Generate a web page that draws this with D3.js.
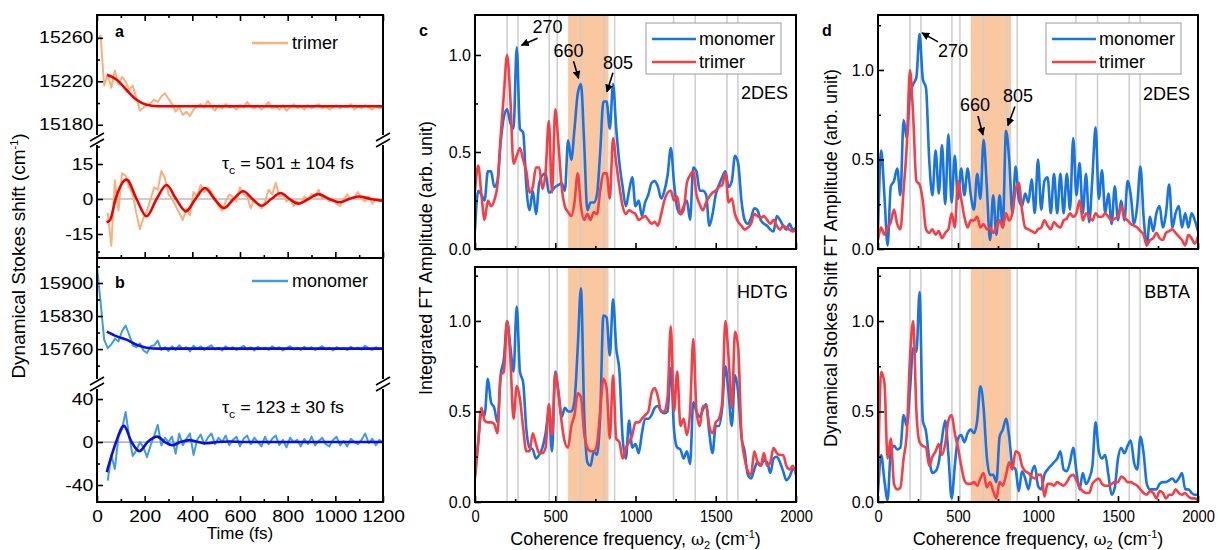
<!DOCTYPE html>
<html>
<head>
<meta charset="utf-8">
<script src="https://cdn.jsdelivr.net/npm/d3@7"></script>
<style>
  body { margin: 0; background: #fff; }
  svg text { font-family: "Liberation Sans", Arial, sans-serif; fill: #000; }
</style>
</head>
<body>
<svg id="fig" width="1218" height="550"></svg>
<script>
// ---------- data ----------
// time grids (fs)
const timeRaw = d3.range(0, 1201, 15);
const timeRes = d3.range(45, 1201, 15);
// frequency grid (cm-1)
const freq = d3.range(0, 2001, 20);

// panel a: trimer dynamical Stokes shift (cm-1)
const trimerShift = [15258,15262,15216,15226,15214,15230,15217,15224,15220,15212,
  15216,15205,15193,15196,15198,15200,15203,15201,15206,15209,
  15204,15199,15192,15196,15189,15192,15188,15194,15197,15199,
  15196,15202,15197,15193,15198,15195,15199,15196,15197,15194,
  15198,15196,15201,15197,15195,15198,15194,15197,15201,15195,
  15197,15194,15198,15193,15196,15199,15195,15197,15194,15198,
  15195,15197,15199,15195,15197,15194,15196,15198,15195,15197,
  15196,15199,15194,15197,15195,15198,15196,15194,15197,15195,
  15196];
const trimerFitT = [42, 83, 124, 166, 208, 264, 1200];
const trimerFit = [15226, 15221.5, 15212, 15203, 15198.5, 15197, 15197];
const trimerResidual = [-6,-20,8,-5,11,10,5,2,-6,-13,
  -8,-5,0,5,4,12,9,2,0,-3,
  -6,-9,-4,-7,3,1,6,3,5,3,
  0,-3,-5,-1,2,1,-1,5,2,1,
  -4,0,-2,-4,-1,4,2,7,1,2,
  -1,0,-3,-1,-2,1,0,2,1,4,
  0,1,-1,0,-2,-3,0,2,0,1,
  3,0,-1,1,-2,0,-1,-1];
const trimerOscT = [40,55,78,124,166,208,250,292,332,373,413,453,493,533,573,614,652,691,731,771,808,845,887,929,975,1020,1058,1097,1150,1200];
const trimerOsc = [-10,-9,0,8.3,0,-7.4,0,6,0,-5.3,0,4.7,0,-3.9,0,3.3,0,-2.9,0,2.6,0,-2.0,0,2.1,0,-1.4,0,1.1,0,-0.8];

// panel b: monomer dynamical Stokes shift (cm-1)
const monomerShift = [15935,15860,15780,15762,15770,15782,15776,15798,15810,15790,
  15768,15764,15772,15757,15752,15766,15768,15778,15758,15764,
  15756,15766,15758,15768,15760,15764,15755,15767,15760,15766,
  15758,15764,15768,15759,15763,15757,15766,15760,15764,15758,
  15762,15767,15759,15764,15757,15765,15760,15763,15758,15766,
  15761,15764,15757,15762,15766,15759,15763,15758,15765,15760,
  15764,15758,15762,15766,15759,15763,15757,15764,15760,15762,
  15758,15765,15760,15763,15759,15767,15761,15758,15764,15760,
  15762];
const monomerFitT = [41, 83, 124, 166, 208, 260, 1200];
const monomerFit = [15797, 15787, 15780, 15769, 15763, 15761, 15761];
const monomerResidual = [-36,-12,-25,5,12,28,5,-13,-8,0,
  -5,-14,-3,6,16,-3,4,0,5,-11,
  8,-3,3,8,-12,2,7,-2,4,8,
  -2,4,0,6,-3,2,5,-4,3,6,
  -2,4,0,-4,5,-2,3,6,-3,2,
  -5,4,0,2,-4,3,-2,5,-3,1,
  4,-2,-4,2,5,-3,1,-4,3,0,
  -2,2,8,-1,3,-3,2,-1];
const monomerOscT = [41,58,80,113,145,178,212,253,285,315,350,387,425,455,505,555,620,1200];
const monomerOsc = [-28,-15,0,15,0,-8.5,0,5,0,-3,0,1.8,0,-1.2,0,0.5,0,0];

// panel c: integrated FT amplitude
const c2desMonomer = [0.10,0.30,0.28,0.25,0.40,0.40,0.32,0.35,0.55,0.68,
  0.72,0.65,0.62,1.04,0.62,0.60,0.32,0.20,0.30,0.18,
  0.34,0.38,0.39,0.29,0.30,0.32,0.33,0.34,0.30,0.56,
  0.46,0.62,0.80,0.85,0.55,0.20,0.24,0.24,0.28,0.50,
  0.76,0.76,0.62,0.85,0.62,0.44,0.32,0.22,0.30,0.37,
  0.22,0.25,0.17,0.24,0.28,0.34,0.35,0.32,0.26,0.30,
  0.38,0.52,0.34,0.21,0.18,0.22,0.25,0.15,0.42,0.40,
  0.30,0.30,0.28,0.12,0.18,0.28,0.33,0.37,0.40,0.32,
  0.35,0.48,0.44,0.25,0.15,0.13,0.16,0.21,0.20,0.15,
  0.13,0.12,0.10,0.09,0.17,0.15,0.12,0.10,0.13,0.10,
  0.11];
const c2desTrimer = [0.30,0.43,0.28,0.15,0.25,0.22,0.25,0.33,0.58,0.80,
  1.00,0.78,0.44,0.48,0.52,0.46,0.40,0.29,0.32,0.42,
  0.42,0.31,0.40,0.66,0.29,0.72,0.54,0.32,0.22,0.19,
  0.17,0.24,0.39,0.22,0.15,0.18,0.15,0.19,0.18,0.30,
  0.39,0.39,0.26,0.57,0.44,0.32,0.22,0.18,0.20,0.19,
  0.18,0.15,0.16,0.17,0.15,0.13,0.14,0.12,0.18,0.25,
  0.29,0.30,0.25,0.27,0.18,0.20,0.34,0.38,0.40,0.28,
  0.23,0.20,0.24,0.27,0.29,0.30,0.32,0.33,0.39,0.24,
  0.26,0.18,0.14,0.12,0.10,0.11,0.13,0.18,0.17,0.16,
  0.17,0.15,0.13,0.15,0.12,0.10,0.12,0.11,0.10,0.09,
  0.10];
const hdtgMonomer = [0.15,0.33,0.50,0.48,0.68,0.55,0.52,0.44,0.70,0.79,
  1.00,0.86,0.72,1.08,0.72,0.66,0.40,0.30,0.29,0.24,
  0.26,0.30,0.38,0.50,0.28,0.72,0.60,0.47,0.52,0.50,
  0.50,0.56,0.85,1.18,0.50,0.22,0.20,0.28,0.26,0.48,
  1.03,1.02,0.81,1.12,0.85,0.72,0.35,0.24,0.45,0.30,
  0.32,0.27,0.38,0.46,0.46,0.48,0.52,0.53,0.50,0.49,
  0.50,0.74,0.40,0.30,0.29,0.24,0.28,0.21,0.55,0.50,
  0.47,0.51,0.54,0.38,0.27,0.42,0.42,0.52,0.75,0.60,
  0.42,0.70,0.60,0.36,0.28,0.15,0.13,0.18,0.22,0.20,
  0.23,0.22,0.16,0.24,0.25,0.22,0.17,0.12,0.14,0.18,
  0.18];
const hdtgTrimer = [0.13,0.33,0.52,0.45,0.44,0.44,0.43,0.38,0.70,0.72,
  1.00,0.80,0.46,0.64,0.57,0.41,0.28,0.28,0.38,0.32,
  0.27,0.27,0.30,0.54,0.37,0.71,0.61,0.44,0.33,0.30,
  0.42,0.48,0.60,0.58,0.38,0.30,0.28,0.28,0.32,0.50,
  0.68,0.63,0.35,0.70,0.35,0.33,0.24,0.30,0.33,0.37,
  0.44,0.44,0.46,0.48,0.50,0.60,0.63,0.58,0.50,0.50,
  0.58,0.97,0.50,0.72,0.42,0.46,0.37,0.50,0.90,0.50,
  0.42,0.53,0.53,0.42,0.38,0.44,0.46,0.55,1.00,0.80,
  0.52,0.94,0.85,0.38,0.24,0.17,0.15,0.28,0.22,0.20,
  0.27,0.20,0.22,0.30,0.27,0.26,0.26,0.20,0.18,0.20,
  0.15];

// panel d: dynamical Stokes shift FT amplitude
const d2desMonomer = [0.10,0.55,0.30,0.02,0.35,0.38,0.45,0.30,0.72,0.62,
  0.87,0.92,0.96,1.20,0.95,0.90,0.50,0.30,0.55,0.31,
  0.58,0.25,0.64,0.26,0.52,0.28,0.45,0.30,0.45,0.30,
  0.22,0.42,0.28,0.61,0.35,0.05,0.30,0.08,0.30,0.12,
  0.66,0.50,0.20,0.46,0.28,0.24,0.31,0.26,0.39,0.20,
  0.50,0.22,0.38,0.40,0.20,0.42,0.20,0.42,0.20,0.42,
  0.22,0.62,0.30,0.48,0.20,0.42,0.15,0.40,0.68,0.28,
  0.44,0.20,0.31,0.14,0.35,0.16,0.27,0.16,0.38,0.30,
  0.14,0.24,0.46,0.18,0.02,0.18,0.10,0.20,0.24,0.12,
  0.20,0.36,0.12,0.20,0.24,0.12,0.20,0.12,0.20,0.16,
  0.10];
const d2desTrimer = [0.05,0.12,0.08,0.12,0.15,0.22,0.14,0.11,0.33,0.58,
  1.00,0.74,0.38,0.36,0.27,0.11,0.09,0.11,0.08,0.10,
  0.06,0.09,0.11,0.20,0.12,0.38,0.28,0.18,0.12,0.16,
  0.16,0.18,0.12,0.14,0.11,0.12,0.09,0.12,0.16,0.12,
  0.20,0.16,0.20,0.33,0.37,0.22,0.12,0.11,0.10,0.09,
  0.11,0.12,0.16,0.13,0.11,0.15,0.13,0.12,0.16,0.17,
  0.20,0.18,0.20,0.27,0.16,0.20,0.18,0.16,0.20,0.18,
  0.18,0.20,0.18,0.16,0.17,0.18,0.24,0.18,0.16,0.14,
  0.13,0.12,0.10,0.08,0.02,0.05,0.06,0.09,0.06,0.05,
  0.09,0.10,0.11,0.09,0.07,0.05,0.02,0.08,0.06,0.03,
  0.07];
const bbtaMonomer = [0.05,0.26,0.12,0.01,0.28,0.31,0.29,0.30,0.48,0.42,
  0.62,0.85,0.83,1.16,0.45,0.39,0.24,0.16,0.17,0.22,
  0.35,0.45,0.26,0.02,0.20,0.35,0.37,0.33,0.38,0.40,
  0.38,0.45,0.64,0.52,0.25,0.15,0.15,0.11,0.36,0.40,
  0.46,0.36,0.20,0.18,0.06,0.17,0.13,0.07,0.16,0.20,
  0.09,0.07,0.15,0.18,0.20,0.22,0.24,0.28,0.18,0.17,
  0.22,0.30,0.17,0.07,0.16,0.10,0.13,0.20,0.44,0.28,
  0.24,0.26,0.15,0.04,0.08,0.24,0.30,0.27,0.31,0.34,
  0.22,0.18,0.36,0.27,0.10,0.07,0.07,0.07,0.10,0.11,
  0.11,0.12,0.13,0.11,0.13,0.16,0.07,0.07,0.05,0.04,
  0.04];
const bbtaTrimer = [0.10,0.72,0.66,0.24,0.35,0.10,0.07,0.08,0.24,0.38,
  0.80,1.00,0.50,0.33,0.31,0.30,0.20,0.25,0.28,0.32,
  0.26,0.32,0.45,0.48,0.38,0.30,0.20,0.12,0.10,0.10,
  0.11,0.09,0.13,0.16,0.08,0.11,0.06,0.02,0.11,0.09,
  0.15,0.22,0.18,0.28,0.27,0.20,0.17,0.16,0.14,0.13,
  0.15,0.15,0.03,0.10,0.10,0.09,0.11,0.10,0.09,0.11,
  0.14,0.15,0.12,0.08,0.06,0.05,0.05,0.10,0.12,0.13,
  0.10,0.09,0.09,0.10,0.11,0.11,0.14,0.13,0.11,0.11,
  0.10,0.09,0.07,0.05,0.04,0.06,0.05,0.02,0.06,0.05,
  0.02,0.04,0.04,0.07,0.05,0.04,0.05,0.03,0.02,0.02,
  0.01];

// vibrational mode markers and shaded region (cm-1)
const modeLines = [200, 268, 462, 512, 658, 805, 870, 1237, 1372, 1570, 1638];
const bandRange = [580, 832];
const timeMajor = [0, 200, 400, 600, 800, 1000, 1200];
const timeMinor = [100, 300, 500, 700, 900, 1100];
const freqMajor = [0, 500, 1000, 1500, 2000];
const freqMinor = [250, 750, 1250, 1750];

// ---------- styles ----------
const col = {
  trimerRaw: '#f8b17c', trimerFit: '#f20000',
  monoRaw: '#3f9ddd', monoFit: '#0d0de6',
  ftMono: '#1873e3', ftTri: '#f83e44',
  band: '#fac8a0', mode: '#cdcdcd'
};

const svg = d3.select('#fig');
let clipId = 0;
const plainInt = d => String(d);   // keep ASCII hyphen for negatives

function clipRect(x0, y0, x1, y1) {
  const id = 'clip' + (clipId++);
  svg.append('clipPath').attr('id', id)
    .append('rect').attr('x', x0).attr('y', y0).attr('width', x1 - x0).attr('height', y1 - y0);
  return `url(#${id})`;
}

// inward tick axis helper
function tickAxis(axis, scale, values, size, fmt, pos, pad, sx) {
  const gen = axis(scale).tickValues(values).tickSize(-size).tickPadding(pad || 4)
    .tickFormat(fmt || '');
  const g = svg.append('g').attr('transform', pos).call(gen);
  g.select('.domain').remove();
  g.selectAll('line').attr('stroke', '#000').attr('stroke-width', 1.6);
  g.selectAll('text').attr('font-size', 16).attr('font-family', '"Liberation Sans", Arial, sans-serif')
    .attr('fill', '#000');
  if (sx) g.selectAll('text').attr('transform', `scale(${sx},1)`);
  return g;
}

function frame(x0, y0, x1, y1) {
  svg.append('rect').attr('x', x0).attr('y', y0).attr('width', x1 - x0).attr('height', y1 - y0)
    .attr('fill', 'none').attr('stroke', '#000').attr('stroke-width', 2);
}

function breakMark(x, y) {
  svg.append('rect').attr('x', x - 3).attr('y', y - 5).attr('width', 6).attr('height', 10).attr('fill', '#fff');
  [-3, 3].forEach(o => {
    svg.append('line').attr('x1', x - 7).attr('y1', y + o + 4).attr('x2', x + 7).attr('y2', y + o - 4)
      .attr('stroke', '#000').attr('stroke-width', 1.6);
  });
}

function sText(x, y, str, size, opts = {}) {
  const t = svg.append('text')
    .attr('transform', `translate(${x},${y})` + (opts.rot ? ` rotate(${opts.rot})` : '') + (opts.sx ? ` scale(${opts.sx},1)` : ''))
    .attr('font-size', size).attr('text-anchor', opts.anchor || 'start')
    .attr('font-weight', opts.bold ? 'bold' : 'normal');
  if (str) t.text(str);
  return t;
}

// ---------- panels a / b ----------
const xT = d3.scaleLinear().domain([0, 1200]).range([97, 383]);

function timePanel(cfg) {
  const yUp = d3.scaleLinear().domain(cfg.upDomain).range([cfg.brk, cfg.top]);
  const yLo = d3.scaleLinear().domain(cfg.loDomain).range([cfg.bottom, cfg.brk]);

  // zero line
  svg.append('line').attr('x1', 97).attr('x2', 383).attr('y1', yLo(0)).attr('y2', yLo(0))
    .attr('stroke', '#9a9a9a').attr('stroke-width', 1.2);

  const upClip = clipRect(97, cfg.top, 383, cfg.brk);
  const loClip = clipRect(97, cfg.brk, 383, cfg.bottom);

  const lineUpRaw = d3.line().x((d, i) => xT(timeRaw[i])).y(d => yUp(d));
  const lineLoRaw = d3.line().x((d, i) => xT(timeRes[i])).y(d => yLo(d));
  const lineUpFit = d3.line().x((d, i) => xT(cfg.fitT[i])).y(d => yUp(d)).curve(d3.curveMonotoneX);
  const lineLoFit = d3.line().x((d, i) => xT(cfg.oscT[i])).y(d => yLo(d)).curve(d3.curveMonotoneX);

  const g1 = svg.append('g').attr('clip-path', upClip);
  g1.append('path').attr('d', lineUpRaw(cfg.raw)).attr('fill', 'none').attr('stroke', cfg.rawColor)
    .attr('stroke-width', 2).attr('stroke-linejoin', 'round');
  g1.append('path').attr('d', lineUpFit(cfg.fit)).attr('fill', 'none').attr('stroke', cfg.fitColor)
    .attr('stroke-width', 2.6);
  const g2 = svg.append('g').attr('clip-path', loClip);
  g2.append('path').attr('d', lineLoRaw(cfg.res)).attr('fill', 'none').attr('stroke', cfg.rawColor)
    .attr('stroke-width', 2).attr('stroke-linejoin', 'round');
  g2.append('path').attr('d', lineLoFit(cfg.osc)).attr('fill', 'none').attr('stroke', cfg.fitColor)
    .attr('stroke-width', 2.6);

  // y ticks
  tickAxis(d3.axisLeft, yUp, cfg.upMajor, 6, plainInt, 'translate(97,0)', 3, 1.22);
  tickAxis(d3.axisLeft, yUp, cfg.upMinor, 3, null, 'translate(97,0)');
  tickAxis(d3.axisLeft, yLo, cfg.loMajor, 6, plainInt, 'translate(97,0)', 3, 1.22);
  tickAxis(d3.axisLeft, yLo, cfg.loMinor, 3, null, 'translate(97,0)');

  // x ticks
  if (cfg.topTicks) {
    tickAxis(d3.axisTop, xT, timeMajor, 6, null, `translate(0,${cfg.top})`);
    tickAxis(d3.axisTop, xT, timeMinor, 3, null, `translate(0,${cfg.top})`);
  }
  tickAxis(d3.axisBottom, xT, timeMajor, 6, cfg.xLabels ? plainInt : null, `translate(0,${cfg.bottom})`, 9, 1.2);
  tickAxis(d3.axisBottom, xT, timeMinor, 3, null, `translate(0,${cfg.bottom})`);

  frame(97, cfg.top, 383, cfg.bottom);
  breakMark(97, cfg.brk);
  breakMark(383, cfg.brk);

  // letter
  sText(115, cfg.top + cfg.letterDy, cfg.letter, 16, { bold: true });
  // legend
  const ly = cfg.top + cfg.legendDy;
  svg.append('line').attr('x1', 252).attr('x2', 288).attr('y1', ly).attr('y2', ly)
    .attr('stroke', cfg.rawColor).attr('stroke-width', 2.4);
  sText(292, ly + 6, cfg.legend, 18);
  // tau
  const t = sText(222, cfg.tauY, null, 16, { sx: 1.12 });
  t.append('tspan').text('τ');
  t.append('tspan').attr('font-size', 11).attr('dy', 5).text('c');
  t.append('tspan').attr('dy', -5).text(cfg.tau);
}

timePanel({
  top: 15, brk: 140, bottom: 258,
  upDomain: [15166, 15281], loDomain: [-25.3, 25.3],
  upMajor: [15180, 15220, 15260], upMinor: [15200, 15240],
  loMajor: [-15, 0, 15], loMinor: [-22.5, -7.5, 7.5, 22.5],
  raw: trimerShift, fitT: trimerFitT, fit: trimerFit,
  res: trimerResidual, oscT: trimerOscT, osc: trimerOsc,
  rawColor: col.trimerRaw, fitColor: col.trimerFit,
  letter: 'a', letterDy: 22, legend: 'trimer', legendDy: 28,
  tau: ' = 501 ± 104 fs', tauY: 169, topTicks: true, xLabels: false
});

timePanel({
  top: 258, brk: 384, bottom: 502,
  upDomain: [15686, 15953], loDomain: [-55.8, 54],
  upMajor: [15760, 15830, 15900], upMinor: [15725, 15795, 15865, 15935],
  loMajor: [-40, 0, 40], loMinor: [-20, 20],
  raw: monomerShift, fitT: monomerFitT, fit: monomerFit,
  res: monomerResidual, oscT: monomerOscT, osc: monomerOsc,
  rawColor: col.monoRaw, fitColor: col.monoFit,
  letter: 'b', letterDy: 30, legend: 'monomer', legendDy: 23,
  tau: ' = 123 ± 30 fs', tauY: 413, topTicks: false, xLabels: true
});

// a/b axis titles
sText(240, 539, 'Time (fs)', 17, { anchor: 'middle' });
{
  const t = sText(25, 256, null, 19, { rot: -90, anchor: 'middle' });
  t.append('tspan').text('Dynamical Stokes shift (cm');
  t.append('tspan').attr('font-size', 11).attr('dy', -7).text('-1');
  t.append('tspan').attr('dy', 7).text(')');
}

// ---------- panels c / d ----------
function specPanel(cfg) {
  const x = d3.scaleLinear().domain([0, 2000]).range(cfg.xr);
  const y = d3.scaleLinear().domain([0, cfg.yMax]).range([cfg.bottom, cfg.top]);
  const [x0, x1] = cfg.xr;

  svg.append('rect').attr('x', x(bandRange[0])).attr('y', cfg.top)
    .attr('width', x(bandRange[1]) - x(bandRange[0])).attr('height', cfg.bottom - cfg.top)
    .attr('fill', col.band);
  svg.selectAll(null).data(modeLines).enter().append('line')
    .attr('x1', d => x(d)).attr('x2', d => x(d)).attr('y1', cfg.top).attr('y2', cfg.bottom)
    .attr('stroke', col.mode).attr('stroke-width', 1.5);

  const clip = clipRect(x0, cfg.top, x1, cfg.bottom);
  const line = d3.line().x((d, i) => x(freq[i])).y(d => y(d)).curve(d3.curveMonotoneX);
  const g = svg.append('g').attr('clip-path', clip);
  g.append('path').attr('d', line(cfg.mono)).attr('fill', 'none').attr('stroke', col.ftMono)
    .attr('stroke-width', 2.6).attr('stroke-linejoin', 'round');
  g.append('path').attr('d', line(cfg.tri)).attr('fill', 'none').attr('stroke', col.ftTri)
    .attr('stroke-width', 2.6).attr('stroke-linejoin', 'round');

  tickAxis(d3.axisLeft, y, [0, 0.5, 1.0], 6, d3.format('.1f'), `translate(${x0},0)`, 4);
  tickAxis(d3.axisLeft, y, [0.25, 0.75, 1.25].filter(v => v < cfg.yMax), 3, null, `translate(${x0},0)`);
  tickAxis(d3.axisBottom, x, freqMajor, 6, cfg.xLabels ? plainInt : null, `translate(0,${cfg.bottom})`, 9, 0.92);
  tickAxis(d3.axisBottom, x, freqMinor, 3, null, `translate(0,${cfg.bottom})`);

  frame(x0, cfg.top, x1, cfg.bottom);

  sText(x1 - 8, cfg.top + cfg.tagDy, cfg.tag, 18, { anchor: 'end' });
  if (cfg.letter) sText(x0 - 56, cfg.top + 21, cfg.letter, 16, { bold: true });

  if (cfg.legend) {
    const L = cfg.legend;
    svg.append('rect').attr('x', L.x).attr('y', L.y).attr('width', 135).attr('height', 51)
      .attr('fill', '#fff').attr('stroke', '#9a9a9a').attr('stroke-width', 1);
    [['monomer', col.ftMono, 16], ['trimer', col.ftTri, 39]].forEach(([name, c, dy]) => {
      svg.append('line').attr('x1', L.x + 6).attr('x2', L.x + 50).attr('y1', L.y + dy).attr('y2', L.y + dy)
        .attr('stroke', c).attr('stroke-width', 2.6);
      sText(L.x + 53, L.y + dy + 6, name, 18);
    });
  }

  (cfg.annots || []).forEach(a => {
    const tx = x(a.f), ty = y(a.v);
    svg.append('line').attr('x1', tx + a.dx).attr('y1', ty + a.dy).attr('x2', tx).attr('y2', ty)
      .attr('stroke', '#000').attr('stroke-width', 1.6).attr('marker-end', 'url(#arrow)');
    sText(tx + a.tx, ty + a.ty, a.label, 18);
  });

  if (cfg.xLabels) {
    const t = sText((x0 + x1) / 2, 545, null, 18, { anchor: 'middle' });
    t.append('tspan').text('Coherence frequency, ');
    t.append('tspan').attr('font-family', '"DejaVu Serif", serif').attr('font-size', 16).text('ω');
    t.append('tspan').attr('font-size', 11).attr('dy', 4).text('2');
    t.append('tspan').attr('dy', -4).text(' (cm');
    t.append('tspan').attr('font-size', 11).attr('dy', -7).text('-1');
    t.append('tspan').attr('dy', 7).text(')');
  }
}

svg.append('defs').append('marker').attr('id', 'arrow').attr('viewBox', '0 0 10 10')
  .attr('refX', 9).attr('refY', 5).attr('markerWidth', 5).attr('markerHeight', 5)
  .attr('markerUnits', 'strokeWidth').attr('orient', 'auto')
  .append('path').attr('d', 'M0,0 L10,5 L0,10 z').attr('fill', '#000');

specPanel({
  xr: [475, 796], top: 15, bottom: 249, yMax: 1.206,
  mono: c2desMonomer, tri: c2desTrimer, tag: '2DES', tagDy: 84, letter: 'c',
  legend: { x: 646, y: 23 }, xLabels: false,
  annots: [
    { f: 290, v: 1.05, dx: 16, dy: -7, tx: 11, ty: -12, label: '270' },
    { f: 645, v: 0.88, dx: -5, dy: -17, tx: -25, ty: -21, label: '660' },
    { f: 822, v: 0.81, dx: 6, dy: -19, tx: -4, ty: -23, label: '805' }
  ]
});
specPanel({
  xr: [475, 796], top: 267, bottom: 502, yMax: 1.298,
  mono: hdtgMonomer, tri: hdtgTrimer, tag: 'HDTG', tagDy: 31, xLabels: true
});
specPanel({
  xr: [878, 1198], top: 15, bottom: 249, yMax: 1.307,
  mono: d2desMonomer, tri: d2desTrimer, tag: '2DES', tagDy: 85, letter: 'd',
  legend: { x: 1046, y: 23 }, xLabels: false,
  annots: [
    { f: 275, v: 1.207, dx: 16, dy: 9, tx: 16, ty: 24, label: '270' },
    { f: 656, v: 0.637, dx: -5, dy: -19, tx: -23, ty: -24, label: '660' },
    { f: 812, v: 0.69, dx: 7, dy: -19, tx: -5, ty: -23, label: '805' }
  ]
});
specPanel({
  xr: [878, 1198], top: 268, bottom: 502, yMax: 1.293,
  mono: bbtaMonomer, tri: bbtaTrimer, tag: 'BBTA', tagDy: 30, xLabels: true
});

// c / d axis titles
sText(432, 258, 'Integrated FT Amplitude (arb. unit)', 18, { rot: -90, anchor: 'middle' });
sText(837, 258, 'Dynamical Stokes Shift FT Amplitude (arb. unit)', 18, { rot: -90, anchor: 'middle' });
</script>
</body>
</html>
